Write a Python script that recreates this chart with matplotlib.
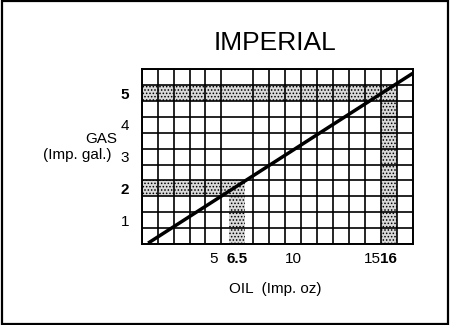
import matplotlib.pyplot as plt
import matplotlib.patches as mpatches
import numpy as np

plt.rcParams['font.family'] = ['Liberation Sans', 'DejaVu Sans']
plt.rcParams['hatch.linewidth'] = 0.7

# oil/gas mixing chart, imperial units
oil_ticks = [5, 6.5, 10, 15, 16]
oil_bold = [6.5, 16]
gas_ticks = [1, 2, 3, 4, 5]
gas_bold = [2, 5]

# mixing line end points (oil oz, gas gal)
line_oil = [0.9, 17.5]
line_gas = [0.28, 5.62]

# highlighted examples: (oil, gas)
examples = [(6.5, 2), (16, 5)]

oil_lim = (0.5, 17.5)
gas_lim = (0.25, 5.75)
oil_cell = 1.0
gas_cell = 0.5

fig = plt.figure(figsize=(4.5, 3.25), dpi=100)
ax = fig.add_axes([0.315, 0.249, 0.602, 0.538])
ax.set_xlim(*oil_lim)
ax.set_ylim(*gas_lim)

# grid: one cell per oz, half gallon per row
ax.set_xticks(np.arange(oil_lim[0], oil_lim[1] + 0.01, oil_cell), minor=True)
ax.set_yticks(np.arange(gas_lim[0], gas_lim[1] + 0.01, gas_cell), minor=True)
ax.grid(which='minor', color='black', linewidth=1.2, zorder=2)
ax.tick_params(which='minor', length=0)
ax.set_axisbelow(False)

ax.set_xticks(oil_ticks)
ax.set_xticklabels([('%g' % v) for v in oil_ticks])
ax.set_yticks(gas_ticks)
ax.set_yticklabels([('%g' % v) for v in gas_ticks])
ax.tick_params(which='major', length=0, labelsize=11, pad=6)
ax.tick_params(axis='y', pad=9)
for lab, v in zip(ax.get_xticklabels(), oil_ticks):
    if v in oil_bold:
        lab.set_fontweight('bold')
for lab, v in zip(ax.get_yticklabels(), gas_ticks):
    if v in gas_bold:
        lab.set_fontweight('bold')

for s in ax.spines.values():
    s.set_linewidth(1.4)

# stippled bands: row from the left edge, column down to the bottom
for oil, gas in examples:
    x1 = oil + oil_cell / 2
    y0 = gas - gas_cell / 2
    y1 = gas + gas_cell / 2
    ax.add_patch(mpatches.Rectangle((oil_lim[0], y0), x1 - oil_lim[0], y1 - y0,
                                    facecolor='#d9d9d9', edgecolor='black',
                                    hatch='.....', linewidth=0, zorder=1))
    ax.add_patch(mpatches.Rectangle((oil - oil_cell / 2, gas_lim[0]), oil_cell,
                                    y0 - gas_lim[0],
                                    facecolor='#d9d9d9', edgecolor='black',
                                    hatch='.....', linewidth=0, zorder=1))

ax.plot(line_oil, line_gas, color='black', linewidth=2.5, zorder=3,
        solid_capstyle='butt', clip_on=True)

fig.text(0.61, 0.868, 'IMPERIAL', ha='center', va='center', fontsize=19)
fig.text(0.611, 0.111, 'OIL  (Imp. oz)', ha='center', va='center', fontsize=11)
fig.text(0.225, 0.572, 'GAS', ha='center', va='center', fontsize=11)
fig.text(0.172, 0.522, '(Imp. gal.)', ha='center', va='center', fontsize=11)

# frame round the whole card
fig.patches.append(mpatches.Rectangle((0.004, 0.004), 0.992, 0.992,
                                      transform=fig.transFigure, fill=False,
                                      edgecolor='black', linewidth=1.6))

fig.savefig('out.png', dpi=100, facecolor='white')
